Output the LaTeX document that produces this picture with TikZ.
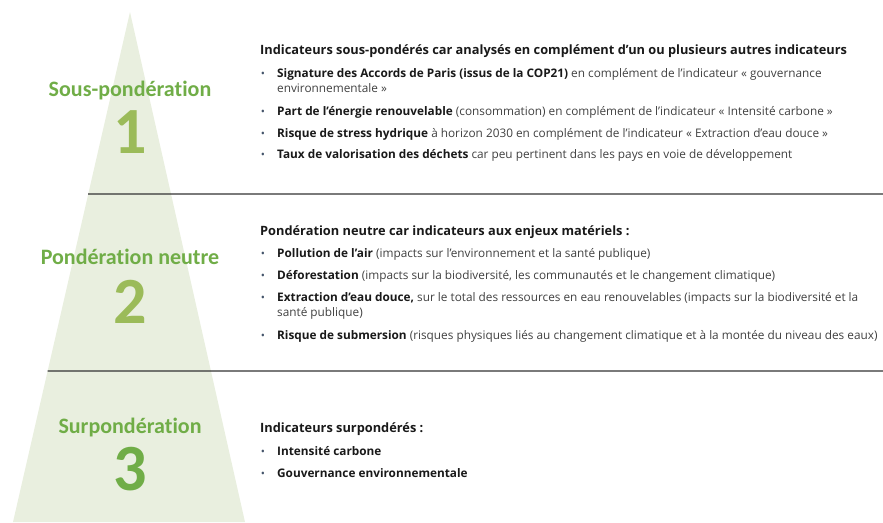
\documentclass[tikz,border=0pt]{standalone}
\usepackage{fontspec}
\setmainfont{Open Sans}
\newfontfamily\titrefont[Ligatures=NoCommon]{Carlito}
\usepackage{xcolor}
\usetikzlibrary{calc}

\definecolor{vertpale}{HTML}{E9EFDF}
\definecolor{vertfonce}{HTML}{70AD47}
\definecolor{vertolive}{HTML}{9BBB59}
\definecolor{grispuce}{HTML}{44546A}
\definecolor{gristexte}{HTML}{404040}

\tikzset{
  titre/.style={anchor=base, inner sep=0, text=vertfonce, font=\titrefont\fontsize{22}{24}\selectfont\bfseries},
  chiffre/.style={anchor=base, inner sep=0, font=\titrefont\fontsize{66}{68}\selectfont\bfseries},
  entete/.style={anchor=base west, inner sep=0, text=black!90, font=\fontsize{12.8}{14}\selectfont\bfseries},
  puce/.style={anchor=base west, inner sep=0, text=gristexte, font=\fontsize{11.8}{13}\selectfont},
  point/.style={anchor=base, inner sep=0, text=grispuce, font=\fontsize{11}{12}\selectfont},
  separation/.style={draw=black!80, line width=1.2pt},
}
\newcommand{\gras}[1]{\textcolor{black!90}{\textbf{#1}}}

\begin{document}
\begin{tikzpicture}[x=1pt,y=-1pt]
                \useasboundingbox (0,0) rectangle (883,522);
                % pyramide
                \coordinate (sommet) at (130,12);
                \coordinate (basegauche) at (13,522);
                \coordinate (basedroite) at (245,522);
                \fill[vertpale] (sommet) -- (basegauche) -- (basedroite) -- cycle;
                \coordinate (sep1) at ($(sommet)!0.357!(basegauche)$);
                \coordinate (sep2) at ($(sommet)!0.704!(basegauche)$);
                \coordinate (sep1fin) at (883,194);
                \coordinate (sep2fin) at (883,371);
                \draw[separation] (sep1) -- (sep1fin);
                \draw[separation] (sep2) -- (sep2fin);
                % niveaux
                \node[titre] (titre1) at (130,96) {Sous-pondération};
                \node[chiffre, text=vertolive] (chiffre1) at (130,153) {1};
                \node[titre] (titre2) at (130,264) {Pondération neutre};
                \node[chiffre, text=vertolive] (chiffre2) at (130,323) {2};
                \node[titre] (titre3) at (130,433) {Surpondération};
                \node[chiffre, text=vertfonce] (chiffre3) at (130,490) {3};
                % bloc 1
                \node[entete] (entete1) at (260,54) {Indicateurs sous-pondérés car analysés en complément d’un ou plusieurs autres indicateurs};
                \node[point] (p11) at (263,77) {\textbullet};
                \node[puce] (b11) at (277,77) {\gras{Signature des Accords de Paris (issus de la COP21)} en complément de l’indicateur « gouvernance};
                \node[puce] (b11s) at (277,92) {environnementale »};
                \node[point] (p12) at (263,115) {\textbullet};
                \node[puce] (b12) at (277,115) {\gras{Part de l’énergie renouvelable} (consommation) en complément de l’indicateur « Intensité carbone »};
                \node[point] (p13) at (263,137) {\textbullet};
                \node[puce] (b13) at (277,137) {\gras{Risque de stress hydrique} à horizon 2030 en complément de l’indicateur « Extraction d’eau douce »};
                \node[point] (p14) at (263,158) {\textbullet};
                \node[puce] (b14) at (277,158) {\gras{Taux de valorisation des déchets} car peu pertinent dans les pays en voie de développement};
                % bloc 2
                \node[entete] (entete2) at (260,235) {Pondération neutre car indicateurs aux enjeux matériels :};
                \node[point] (p21) at (263,257) {\textbullet};
                \node[puce] (b21) at (277,257) {\gras{Pollution de l’air} (impacts sur l’environnement et la santé publique)};
                \node[point] (p22) at (263,279) {\textbullet};
                \node[puce] (b22) at (277,279) {\gras{Déforestation} (impacts sur la biodiversité, les communautés et le changement climatique)};
                \node[point] (p23) at (263,301) {\textbullet};
                \node[puce] (b23) at (277,301) {\gras{Extraction d’eau douce,} sur le total des ressources en eau renouvelables (impacts sur la biodiversité et la};
                \node[puce] (b23s) at (277,316) {santé publique)};
                \node[point] (p24) at (263,339) {\textbullet};
                \node[puce] (b24) at (277,339) {\gras{Risque de submersion} (risques physiques liés au changement climatique et à la montée du niveau des eaux)};
                % bloc 3
                \node[entete] (entete3) at (260,432) {Indicateurs surpondérés :};
                \node[point] (p31) at (263,455) {\textbullet};
                \node[puce] (b31) at (277,455) {\gras{Intensité carbone}};
                \node[point] (p32) at (263,477) {\textbullet};
                \node[puce] (b32) at (277,477) {\gras{Gouvernance environnementale}};
            \end{tikzpicture}
\end{document}
